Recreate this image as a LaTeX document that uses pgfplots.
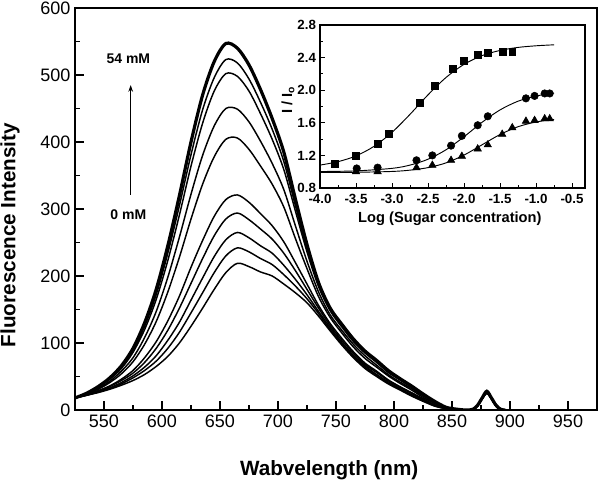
\documentclass[border=0pt]{standalone}
\usepackage{fontspec}
\setmainfont{Liberation Sans}
\usepackage{pgfplots}
\usepackage{pgfplotstable}
\pgfplotsset{compat=1.18}
\usetikzlibrary{arrows.meta}

% emission spectra, 0 mM (B) up to 54 mM (T)
\pgfplotstableread{
wl  B   c2  c3  c4  c5  c6  c7  c8  c9  T
525 18  18  18  18  18  18  18  18  18  18
535 22  22  22  23  23  24  24  25  25  25
545 26  27  27  28  29  31  32  34  34  35
555 31  32  33  35  36  41  43  46  47  48
565 37  39  41  44  46  54  58  62  64  66
575 44  48  51  55  59  72  78  86  89  92
585 53  59  64  71  78  98  108 120 125 130
595 65  73  81  92  102 132 147 165 172 180
605 80  92  104 119 133 176 198 223 234 245
615 100 116 131 152 170 228 258 291 305 320
625 125 145 164 189 213 285 322 364 381 400
635 152 175 197 226 253 337 380 428 448 470
645 180 205 229 260 289 378 424 476 496 520
655 205 230 254 285 314 404 450 502 523 547
665 219 242 265 294 321 406 449 498 518 540
675 214 236 257 284 310 389 430 476 494 515
685 206 226 245 270 293 364 401 442 459 478
695 200 217 234 255 275 337 368 404 419 435
705 188 202 216 234 251 303 329 359 371 385
715 175 185 195 208 220 256 275 297 305 315
725 160 166 172 180 188 211 222 236 241 247
735 140 144 147 152 156 169 176 184 187 190
745 118 120 123 126 129 138 142 148 150 152
755 97  99  101 104 107 115 119 124 126 128
765 78  80  82  85  87  94  98  102 104 106
775 62  64  66  68  70  77  81  85  86  88
785 50  52  53  56  58  64  67  71  72  74
795 39  40  42  44  45  51  53  56  58  59
805 30  31  32  34  35  40  42  45  46  47
815 21  22  23  25  26  30  32  34  35  36
825 13  14  15  16  17  19  21  23  23  24
835 6   6   7   8   8   10  11  12  13  13
845 2   2   2   3   3   3   3   4   4   4
855 0   0   0   0   0   1   1   1   1   1
862 0   0   0   0   0   0   0   0   0   0
868 1   1   1   1   1   1   1   1   1   1
872 6   6   6   6   6   6   6   6   6   7
876 17  17  17  17  17  17  17  17  18  18
880 25  25  25  25  26  26  26  27  27  28
884 17  17  17  17  17  17  17  17  18  18
888 6   6   6   6   6   6   6   6   6   7
892 1   1   1   1   1   1   1   1   1   1
896 0   0   0   0   0   0   0   0   0   0
}\spectra

% inset: I/Io vs log concentration
\pgfplotstableread{
x y
-3.79 1.10
-3.50 1.20
-3.20 1.34
-3.04 1.47
-2.61 1.85
-2.40 2.05
-2.16 2.26
-2.01 2.36
-1.81 2.44
-1.67 2.46
-1.46 2.47
-1.33 2.47
}\sq
\pgfplotstableread{
x y
-4.00 1.081
-3.75 1.123
-3.50 1.194
-3.25 1.311
-3.00 1.483
-2.75 1.704
-2.50 1.943
-2.25 2.156
-2.00 2.317
-1.75 2.424
-1.50 2.488
-1.25 2.525
-1.00 2.545
-0.75 2.557
}\sqfit
\pgfplotstableread{
x y
-3.49 1.04
-3.20 1.05
-2.66 1.14
-2.44 1.20
-2.18 1.32
-2.03 1.44
-1.81 1.57
-1.67 1.68
-1.14 1.90
-1.02 1.93
-0.88 1.96
-0.81 1.96
}\circ
\pgfplotstableread{
x y
-4.00 1.002
-3.50 1.010
-3.00 1.041
-2.75 1.081
-2.50 1.153
-2.25 1.269
-2.00 1.429
-1.75 1.606
-1.50 1.758
-1.25 1.865
-1.00 1.929
-0.75 1.964
}\circfit
\pgfplotstableread{
x y
-3.50 1.00
-3.20 1.00
-2.66 1.05
-2.44 1.08
-2.18 1.14
-2.03 1.19
-1.81 1.28
-1.67 1.33
-1.47 1.46
-1.33 1.54
-1.14 1.62
-1.02 1.63
-0.88 1.65
-0.81 1.65
}\tri
\pgfplotstableread{
x y
-4.00 0.991
-3.50 0.993
-3.00 1.003
-2.75 1.019
-2.50 1.050
-2.25 1.108
-2.00 1.204
-1.75 1.330
-1.50 1.456
-1.25 1.552
-1.00 1.610
-0.75 1.641
}\trifit

\begin{document}
\begin{tikzpicture}[spec/.style={black, line width=1.1pt, smooth, no marks}]
\path[use as bounding box] (-56.25pt,-54.75pt) rectangle (393.75pt,307.5pt);
\begin{axis}[
  scale only axis, width=391.5pt, height=301.5pt,
  xmin=525, xmax=975, ymin=0, ymax=600,
  xtick={550,600,...,950}, ytick={0,100,...,600},
  minor x tick num=1, minor y tick num=1,
  xtick pos=left, ytick pos=left, tick align=inside,
  major tick length=6.5pt, minor tick length=3.5pt,
  tick style={black, line width=0.8pt},
  axis line style={line width=0.8pt},
  /pgf/number format/assume math mode=true,
  ticklabel style={font=\fontsize{13.5}{15}\selectfont},
  xlabel={Wabvelength (nm)}, ylabel={Fluorescence Intensity},
  label style={font=\bfseries\fontsize{15.5}{18}\selectfont},
  xlabel style={at={(axis description cs:0.487,-0.149)}, anchor=center},
  ylabel style={at={(axis description cs:-0.1245,0.435)}, anchor=center},
]
\addplot[spec] table[x=wl, y=B] {\spectra};
\addplot[spec] table[x=wl, y=c2] {\spectra};
\addplot[spec] table[x=wl, y=c3] {\spectra};
\addplot[spec] table[x=wl, y=c4] {\spectra};
\addplot[spec] table[x=wl, y=c5] {\spectra};
\addplot[spec] table[x=wl, y=c6] {\spectra};
\addplot[spec] table[x=wl, y=c7] {\spectra};
\addplot[spec] table[x=wl, y=c8] {\spectra};
\addplot[spec] table[x=wl, y=c9] {\spectra};
\addplot[spec, line width=2.4pt] table[x=wl, y=T] {\spectra};
\node[font=\bfseries\fontsize{10.5}{12}\selectfont] at (axis cs:571,525) {54 mM};
\node[font=\bfseries\fontsize{10.5}{12}\selectfont] at (axis cs:571,291) {0 mM};
\draw[-{Stealth[length=5pt,width=3.5pt]}, line width=0.6pt] (axis cs:573,321) -- (axis cs:573,485);
\end{axis}

\begin{axis}[
  at={(183.75pt,166.5pt)}, anchor=south west,
  scale only axis, width=198.75pt, height=122.25pt,
  xmin=-4, xmax=-0.32, ymin=0.8, ymax=2.8,
  xtick={-4,-3.5,-3,-2.5,-2,-1.5,-1,-0.5},
  ytick={0.8,1.2,1.6,2.0,2.4,2.8},
  minor x tick num=1, minor y tick num=1,
  xtick pos=left, ytick pos=left, tick align=inside,
  major tick length=4pt, minor tick length=2.5pt,
  tick style={black, line width=0.7pt},
  axis line style={line width=0.8pt},
  /pgf/number format/assume math mode=true,
  ticklabel style={font=\bfseries\fontsize{10}{12}\selectfont},
  xticklabel style={yshift=-1pt, /pgf/number format/fixed, /pgf/number format/fixed zerofill, /pgf/number format/precision=1},
  yticklabel style={xshift=0.5pt, /pgf/number format/fixed, /pgf/number format/fixed zerofill, /pgf/number format/precision=1},
  xlabel={Log (Sugar concentration)}, ylabel={I / I\textsubscript{o}},
  label style={font=\bfseries\fontsize{11}{13}\selectfont},
  xlabel style={at={(axis description cs:0.49,-0.19)}, anchor=center},
  ylabel style={at={(axis description cs:-0.121,0.54)}, anchor=center},
]
\addplot[black, line width=0.7pt, smooth, no marks] table {\sqfit};
\addplot[black, line width=0.7pt, smooth, no marks] table {\circfit};
\addplot[black, line width=0.7pt, smooth, no marks] table {\trifit};
\addplot[black, only marks, mark=square*, mark size=2.6pt] table {\sq};
\addplot[black, only marks, mark=*, mark size=2.8pt] table {\circ};
\addplot[black, only marks, mark=triangle*, mark size=3.2pt] table {\tri};
\end{axis}
\end{tikzpicture}
\end{document}
